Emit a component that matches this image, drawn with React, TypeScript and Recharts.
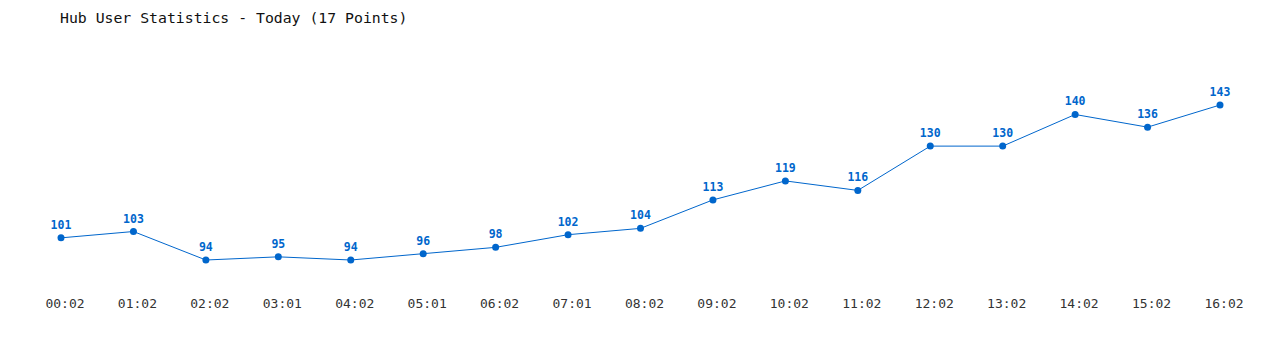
import React from 'react'
import { LineChart, Line, XAxis, YAxis, LabelList } from 'recharts'

const times = ['00:02', '01:02', '02:02', '03:01', '04:02', '05:01', '06:02', '07:01', '08:02', '09:02', '10:02', '11:02', '12:02', '13:02', '14:02', '15:02', '16:02']
const users = [101, 103, 94, 95, 94, 96, 98, 102, 104, 113, 119, 116, 130, 130, 140, 136, 143]

const data = times.map((t, i) => ({ time: t, users: users[i] }))

const FONT = '"DejaVu Sans Mono", "Liberation Mono", monospace'
const BLUE = '#0066cc'

const TimeTick = ({ x, y, payload }: any) => (
  <text x={x} y={y} dx={4} dy={40} textAnchor="middle" fontFamily={FONT} fontSize={13} fill="#333">
    {payload.value}
  </text>
)

export default function App() {
  return (
    <div style={{ position: 'absolute', left: 0, top: 0, width: 1280, height: 350, background: '#fff' }}>
      <div style={{ position: 'absolute', left: 60, top: 9, fontFamily: FONT, fontSize: 14.8, color: '#111', lineHeight: '18px', whiteSpace: 'pre' }}>
        Hub User Statistics - Today (17 Points)
      </div>
      <LineChart width={1280} height={350} data={data} margin={{ top: 105, right: 60, bottom: 60, left: 61 }}>
        <XAxis dataKey="time" axisLine={false} tickLine={false} tick={<TimeTick />} height={30} interval={0} padding={{ left: 0, right: 0 }} />
        <YAxis hide domain={[94, 143]} />
        <Line type="linear" dataKey="users" stroke={BLUE} strokeWidth={1} dot={{ r: 3.5, fill: BLUE, stroke: BLUE, strokeWidth: 0 }} isAnimationActive={false}>
          <LabelList dataKey="users" position="top" offset={9} fill={BLUE} fontFamily={FONT} fontSize={11.5} fontWeight="bold" />
        </Line>
      </LineChart>
    </div>
  )
}
